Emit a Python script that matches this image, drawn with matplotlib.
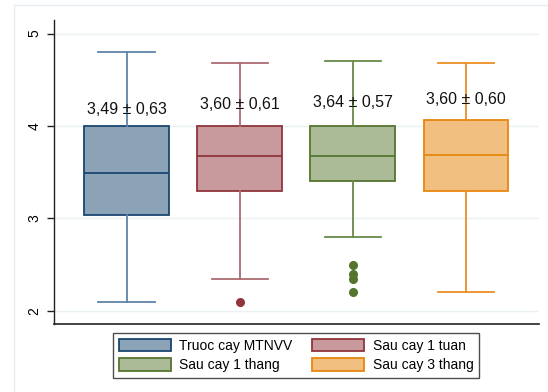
import matplotlib.pyplot as plt
from matplotlib.patches import Patch, Rectangle

plt.rcParams['font.family'] = ['Liberation Sans', 'DejaVu Sans']

# Summary statistics per group
groups = ['Truoc cay MTNVV', 'Sau cay 1 tuan', 'Sau cay 1 thang', 'Sau cay 3 thang']
whis_lo = [2.10, 2.34, 2.80, 2.20]
q1 = [3.04, 3.30, 3.40, 3.30]
medians = [3.49, 3.67, 3.67, 3.69]
q3 = [4.00, 4.00, 4.00, 4.07]
whis_hi = [4.80, 4.68, 4.70, 4.68]
fliers = [[], [2.10], [2.50, 2.40, 2.34, 2.20], []]
means = [3.49, 3.60, 3.64, 3.60]
sds = [0.63, 0.61, 0.57, 0.60]
label_y = [4.18, 4.23, 4.25, 4.29]

edge_colors = ['#1a476f', '#90353b', '#55752f', '#e8870f']
fill_colors = ['#8ca3b7', '#c89a9e', '#abba97', '#f1bf80']
whisk_colors = ['#5f84a6', '#ad6b71', '#6a8a48', '#eb8f24']

fig = plt.figure(figsize=(5.48, 3.92), dpi=100)
W, H = 548, 392
ax = fig.add_axes([53.7 / W, 1 - 324 / H, (539 - 53.7) / W, (324 - 20) / H])

# light outer frame of the graph region
fig.patches.append(Rectangle((14 / W, -0.1), 1.2, 1.1 - 5 / H, transform=fig.transFigure,
                             fill=False, edgecolor='#e6edf0', linewidth=1.0))

for y in [2, 3, 4, 5]:
    ax.axhline(y, color='#eaf1f2', linewidth=1.0, zorder=0)

for i in range(len(groups)):
    stats = [dict(med=medians[i], q1=q1[i], q3=q3[i], whislo=whis_lo[i], whishi=whis_hi[i],
                  fliers=fliers[i], label=groups[i])]
    ax.bxp(stats, positions=[i + 1], widths=0.75, patch_artist=True, showfliers=True,
           boxprops=dict(facecolor=fill_colors[i], edgecolor=edge_colors[i], linewidth=1.3),
           medianprops=dict(color=edge_colors[i], linewidth=1.3),
           whiskerprops=dict(color=whisk_colors[i], linewidth=1.3),
           capprops=dict(color=whisk_colors[i], linewidth=1.3),
           capwidths=0.5,
           flierprops=dict(marker='o', markerfacecolor=edge_colors[i], markeredgecolor=edge_colors[i],
                           markersize=5.5))
    txt = '{} ± {}'.format(('%.2f' % means[i]).replace('.', ','), ('%.2f' % sds[i]).replace('.', ','))
    ax.text(i + 1, label_y[i], txt, ha='center', va='center', fontsize=11.5, color='#111111')

ax.set_xlim(0.354, 4.646)
ax.set_ylim(1.857, 5.147)
ax.set_yticks([2, 3, 4, 5])
ax.set_yticklabels(['2', '3', '4', '5'], rotation=90, va='center', fontsize=10)
ax.set_xticks([])
ax.tick_params(axis='y', length=5, width=1, color='#222222', pad=4)
ax.spines['top'].set_visible(False)
ax.spines['right'].set_visible(False)
ax.spines['left'].set_color('#222222')
ax.spines['bottom'].set_color('#222222')
ax.spines['left'].set_linewidth(1.0)
ax.spines['bottom'].set_linewidth(1.2)

handles = [Patch(facecolor=fill_colors[i], edgecolor=edge_colors[i], linewidth=1.3, label=groups[i])
           for i in range(4)]
order = [0, 2, 1, 3]
leg = fig.legend([handles[k] for k in order], [groups[k] for k in order], ncol=2,
                 loc='upper center', bbox_to_anchor=(296 / W, 1 - 333 / H), fontsize=10,
                 frameon=True, fancybox=False, edgecolor='#222222', handlelength=3.75,
                 handleheight=1.0, handletextpad=0.6, columnspacing=1.45, labelspacing=0.4,
                 borderpad=0.4, borderaxespad=0)
leg.get_frame().set_linewidth(1.0)

fig.savefig('out.png', dpi=100)
